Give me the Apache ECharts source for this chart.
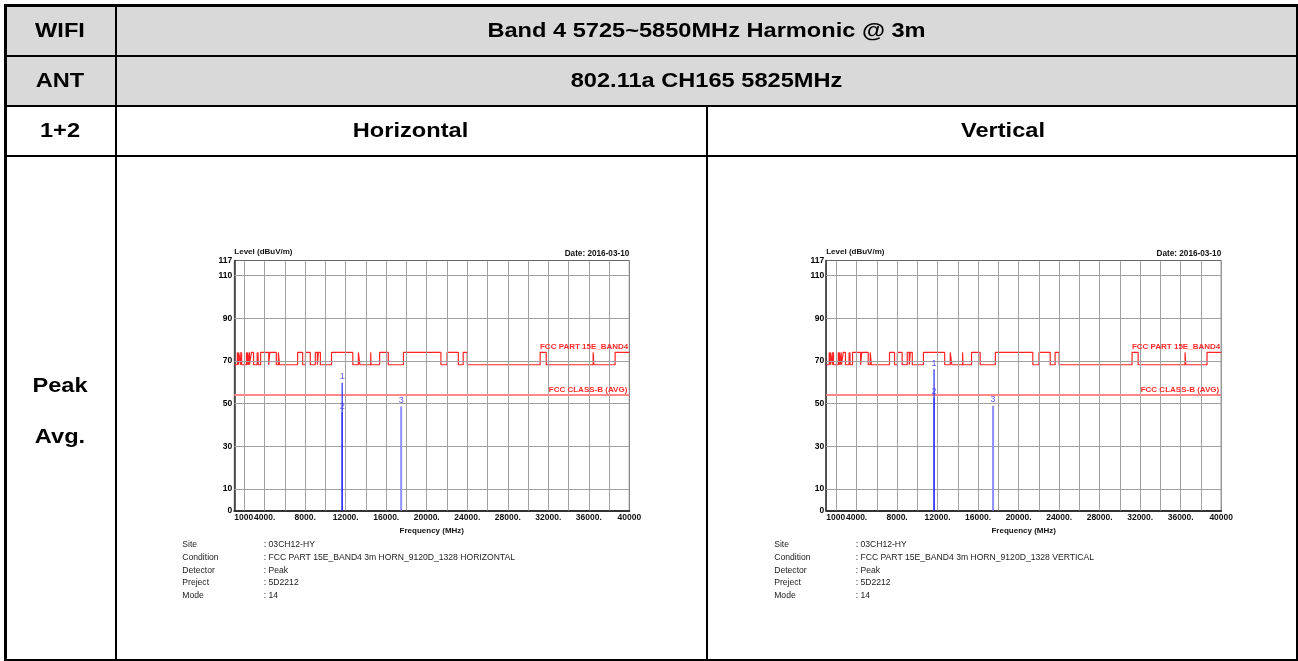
<!DOCTYPE html>
<html><head><meta charset="utf-8">
<script src="https://cdn.jsdelivr.net/npm/echarts@6/dist/echarts.min.js"></script>
<style>html,body{margin:0;padding:0;background:#fff}#c{width:1298px;height:661px}</style>
</head><body><div id="c"></div>
<script>
// ---- data ----
const restrictedStart = [1300,1435,1645.5,1660,1718.8,2200,2310,2483.5,2690,3260,3332,3345.8,3600,4500,5350,7250,8025,9000,9300,10600,13250,14470,15350,17700,22010,23600,31200,36430,38600];
const restrictedEnd   = [1427,1626.5,1646.5,1710,1722.2,2300,2390,2500,2900,3267,3339,3358,4400,5150,5460,7750,8500,9200,9500,12700,13400,14500,16200,21400,23120,24000,31800,36500,40000];
const restrictedLimit = 74;
const otherLimit = 68.2;
const avgLimit = 54;
const freqMin = 1000, freqMax = 40000;
const levelMin = 0, levelMax = 117;
const markerNames = ['1','2','3'];
const markerFreqH = [11650, 11650, 17475];
const markerLevelH = [59.8, 46.0, 48.7];
const markerFreqV = [11650, 11650, 17475];
const markerLevelV = [66.1, 52.8, 49.0];
const xTickValues = [1000,4000,8000,12000,16000,20000,24000,28000,32000,36000,40000];
const xTickText   = ['1000','4000.','8000.','12000.','16000.','20000.','24000.','28000.','32000.','36000.','40000'];
const yTickValues = [0,10,30,50,70,90,110,117];
const xGridLines = [2000,4000,6000,8000,10000,12000,14000,16000,18000,20000,22000,24000,26000,28000,30000,32000,34000,36000,38000];
const yGridLines = [10,30,50,70,90,110];
const infoLabels = ['Site','Condition','Detector','Preject','Mode'];
const infoValuesH = [': 03CH12-HY',': FCC PART 15E_BAND4 3m HORN_9120D_1328 HORIZONTAL',': Peak',': 5D2212',': 14'];
const infoValuesV = [': 03CH12-HY',': FCC PART 15E_BAND4 3m HORN_9120D_1328 VERTICAL',': Peak',': 5D2212',': 14'];
const dateText = 'Date: 2016-03-10';
const limitName = 'FCC PART 15E_BAND4';
const avgName = 'FCC CLASS-B (AVG)';

// ---- build ----
function buildMask(){
  const pts = [[freqMin, otherLimit]];
  for (let i = 0; i < restrictedStart.length; i++) {
    const s = restrictedStart[i], e = restrictedEnd[i];
    pts.push([s, otherLimit],[s, restrictedLimit],[e, restrictedLimit]);
    if (e < freqMax) pts.push([e, otherLimit]);
  }
  const last = pts[pts.length-1];
  if (last[0] < freqMax) pts.push([freqMax, last[1]]);
  return pts;
}
const mask = buildMask();

const plotW = 395, plotH = 250, plotTop = 260.5;
const plotLefts = [234.3, 826.2];
const FONT = '"Liberation Sans", Arial, sans-serif';

const grids = plotLefts.map(l => ({left:l, top:plotTop, width:plotW, height:plotH, show:true, borderColor:'#666', borderWidth:1, backgroundColor:'#fff'}));

const xAxes = [0,1].map(i => ({
  type:'value', gridIndex:i, min:freqMin, max:freqMax, interval:1000,
  name:'Frequency (MHz)', nameLocation:'middle', nameGap:16,
  nameTextStyle:{fontSize:8, fontWeight:'bold', color:'#111', fontFamily:FONT},
  axisLine:{show:true, lineStyle:{color:'#333', width:2}},
  axisTick:{show:false}, splitLine:{show:false},
  axisLabel:{show:true, margin:3, fontSize:8.5, fontWeight:'bold', color:'#111', fontFamily:FONT,
    alignMinLabel:'left', showMinLabel:true, showMaxLabel:true, hideOverlap:false,
    formatter: v => { const k = xTickValues.indexOf(v); return k >= 0 ? xTickText[k] : ''; }}
}));
const yAxes = [0,1].map(i => ({
  type:'value', gridIndex:i, min:levelMin, max:levelMax, interval:10,
  name:'Level (dBuV/m)', nameLocation:'end', nameGap:6,
  nameTextStyle:{fontSize:8, fontWeight:'bold', color:'#111', align:'left', verticalAlign:'middle', fontFamily:FONT},
  axisLine:{show:true, lineStyle:{color:'#333', width:1.5}},
  axisTick:{show:false}, splitLine:{show:false},
  axisLabel:{show:true, margin:2, fontSize:8.5, fontWeight:'bold', color:'#000', fontFamily:FONT,
    showMinLabel:true, showMaxLabel:true, hideOverlap:false,
    formatter: v => yTickValues.indexOf(v) >= 0 ? String(v) : ''}
}));

const series = [];
[[markerFreqH, markerLevelH],[markerFreqV, markerLevelV]].forEach((m, gi) => {
  // grid lines
  series.push({type:'line', xAxisIndex:gi, yAxisIndex:gi, data:[], z:1, silent:true,
    markLine:{silent:true, symbol:'none', animation:false, label:{show:false},
      lineStyle:{color:'#a0a0a0', width:1, type:'solid'},
      data:[...xGridLines.map(x => ({xAxis:x})), ...yGridLines.map(y => ({yAxis:y}))]}});
  // avg limit
  series.push({type:'line', xAxisIndex:gi, yAxisIndex:gi, data:[], z:3, silent:true,
    markLine:{silent:true, symbol:'none', animation:false,
      lineStyle:{color:'#ff8a8a', width:2, type:'solid'},
      label:{show:true, position:'insideEndTop', distance:[2,1], formatter:avgName,
        color:'#ff2a2a', fontSize:8, fontWeight:'bold', fontFamily:FONT},
      data:[{yAxis:avgLimit}]}});
  // peak limit mask
  series.push({type:'line', xAxisIndex:gi, yAxisIndex:gi, data:mask, z:4, silent:true,
    showSymbol:false, symbol:'none', lineStyle:{color:'#ff2222', width:1.2},
    markPoint:{silent:true, symbol:'rect', symbolSize:0, animation:false,
      label:{show:true, position:'left', distance:1, offset:[0,-6], formatter:limitName,
        color:'#ff2a2a', fontSize:8, fontWeight:'bold', fontFamily:FONT},
      data:[{coord:[freqMax, restrictedLimit]}]}});
  // markers (vertical sticks)
  const [fr, lv] = m;
  fr.forEach((f, k) => {
    const light = k === 2;
    series.push({type:'line', xAxisIndex:gi, yAxisIndex:gi, z:5, silent:true,
      data:[[f, levelMin],[f, lv[k]]], showSymbol:false, symbol:'none',
      lineStyle:{color: light ? '#8f8fff' : '#2a2aff', width: light ? 2 : 1.2}});
  });
  series.push({type:'scatter', xAxisIndex:gi, yAxisIndex:gi, z:6, silent:true,
    symbolSize:1, itemStyle:{color:'rgba(0,0,0,0)'},
    data: fr.map((f,k) => ({value:[f, lv[k]], name:markerNames[k]})),
    label:{show:true, position:'top', distance:1, formatter: p => p.name,
      color:'#3535ff', fontSize:9, fontFamily:FONT}});
});

// ---- table & texts (graphic) ----
const g = [];
const rect = (x,y,w,h,fill) => g.push({type:'rect', silent:true, z:-10, shape:{x,y,width:w,height:h}, style:{fill}});
const text = (x,y,t,opt,sx) => g.push({type:'text', silent:true, z:10, x, y, scaleX: sx || 1,
  style:Object.assign({text:t, fill:'#000', font:'bold 20px '+FONT, align:'center', verticalAlign:'middle'}, opt||{})});
rect(7,7,1289,98,'#d9d9d9');
const bcol = '#000';
const border = (x,y,w,h) => g.push({type:'rect', silent:true, z:20, shape:{x,y,width:w,height:h}, style:{fill:bcol}});
border(4,4,1294,3);      // top
border(4,4,3,657);       // left
border(1296,4,2,657);    // right
border(4,659,1294,2);    // bottom
border(115,4,2,657);     // first column divider
border(4,55,1294,2);
border(4,105,1294,2);
border(4,155,1294,2);
border(706,105,2,556);   // H / V divider
const SX = 1.18;
text(60,31,'WIFI',null,SX); text(60,81,'ANT',null,SX); text(60,131,'1+2',null,SX);
text(60,386,'Peak',null,SX); text(60,437,'Avg.',null,SX);
text(706.5,31,'Band 4 5725~5850MHz Harmonic @ 3m',null,SX);
text(706.5,81,'802.11a CH165 5825MHz',null,SX);
text(410.5,131,'Horizontal',null,SX); text(1003,131,'Vertical',null,SX);
plotLefts.forEach((l, gi) => {
  text(l+plotW, 253.3, dateText, {font:'bold 8.2px '+FONT, align:'right', fill:'#111'});
  const vals = gi === 0 ? infoValuesH : infoValuesV;
  infoLabels.forEach((lab, k) => {
    const y = 545 + k*12.6;
    text(l-52, y, lab, {font:'8.6px '+FONT, align:'left', fill:'#222'});
    text(l+29.5, y, vals[k], {font:'8.6px '+FONT, align:'left', fill:'#222'});
  });
});

const chart = echarts.init(document.getElementById('c'), null, {renderer:'canvas'});
chart.setOption({
  animation:false, backgroundColor:'#fff',
  grid:grids, xAxis:xAxes, yAxis:yAxes, series, graphic:g
});
</script></body></html>
